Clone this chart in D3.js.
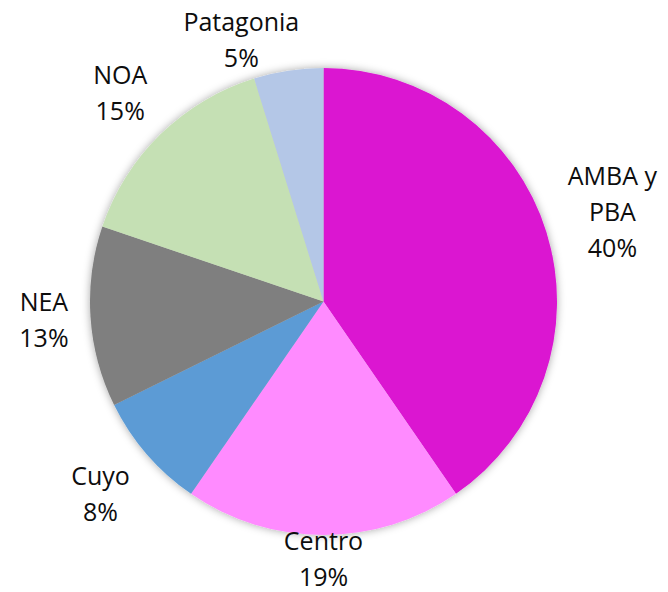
<!DOCTYPE html>
<html><head><meta charset="utf-8">
<script src="https://cdn.jsdelivr.net/npm/d3@7"></script>
<style>html,body{margin:0;padding:0;background:#fff;}svg{display:block;}</style>
</head><body>
<script>
const categories = ["AMBA y PBA", "Centro", "Cuyo", "NEA", "NOA", "Patagonia"];
const labelLines = [["AMBA y", "PBA"], ["Centro"], ["Cuyo"], ["NEA"], ["NOA"], ["Patagonia"]];
const values = [40.4, 19.2, 8.1, 12.5, 15.0, 4.8];
const colors = ["#DB14D1", "#FF8BFF", "#5B9BD5", "#7F7F7F", "#C5E0B4", "#B4C7E7"];

const W = 668, H = 592;
const cx = 323.5, cy = 301.5, R = 233.5;
const fontSize = 25, lineH = 36, capH = 18;

const svg = d3.select("body").append("svg").attr("width", W).attr("height", H);
const defs = svg.append("defs");
const f = defs.append("filter").attr("id", "sh").attr("x", "-20%").attr("y", "-20%").attr("width", "140%").attr("height", "140%");
f.append("feDropShadow").attr("dx", 0).attr("dy", 0).attr("stdDeviation", 4).attr("flood-color", "#000").attr("flood-opacity", 0.35);

const data = categories.map((c, i) => ({ cat: c, lines: labelLines[i], value: values[i], color: colors[i] }));
const pie = d3.pie().value(d => d.value).sort(null);
const arcs = pie(data);
const arc = d3.arc().innerRadius(0).outerRadius(R);

const g = svg.append("g").attr("transform", `translate(${cx},${cy})`);
const pg = g.append("g").attr("filter", "url(#sh)");
pg.selectAll("path").data(arcs).join("path")
  .attr("d", arc).attr("fill", d => d.data.color);

const total = d3.sum(values);
const fmt = v => Math.round(v * 100 / total) + "%";

const lg = svg.append("g").attr("font-family", "'Open Sans', Lato, sans-serif").attr("font-size", fontSize).attr("fill", "#0d0d0d");
arcs.forEach(a => {
  const lines = a.data.lines.concat([fmt(a.data.value)]);
  const t = lg.append("text").attr("text-anchor", "middle");
  lines.forEach((l, i) => t.append("tspan").attr("x", 0).attr("y", i * lineH).text(l));
  const w = t.node().getBBox().width;
  const hw = w / 2 + 2;
  const hh = ((lines.length - 1) * lineH + capH) / 2;
  const mid = (a.startAngle + a.endAngle) / 2;
  const dx = Math.sin(mid), dy = -Math.cos(mid);
  const gap = 20;
  const px = cx + dx * (R + gap), py = cy + dy * (R + gap);
  const tt = Math.min(Math.abs(dx) > 1e-6 ? hw / Math.abs(dx) : Infinity, Math.abs(dy) > 1e-6 ? hh / Math.abs(dy) : Infinity);
  let bx = px + dx * tt, by = py + dy * tt;
  bx = Math.max(hw, Math.min(W - hw, bx));
  const topClamp = 13 + hh, botClamp = H - 6 - hh;
  if (by < topClamp) {
    by = topClamp;
    // push sideways until the box clears the pie
    const dir = dx < 0 ? -1 : 1;
    for (let k = 0; k < 400; k++) {
      const nx = Math.max(bx - hw, Math.min(bx + hw, cx));
      const ny = Math.max(by - hh, Math.min(by + hh, cy));
      if (Math.hypot(nx - cx, ny - cy) >= R + 2) break;
      bx += dir;
    }
  } else if (by > botClamp) {
    by = botClamp;
  }
  const base = by - hh + capH;
  t.attr("transform", `translate(${bx},${base})`);
});
</script>
</body></html>
